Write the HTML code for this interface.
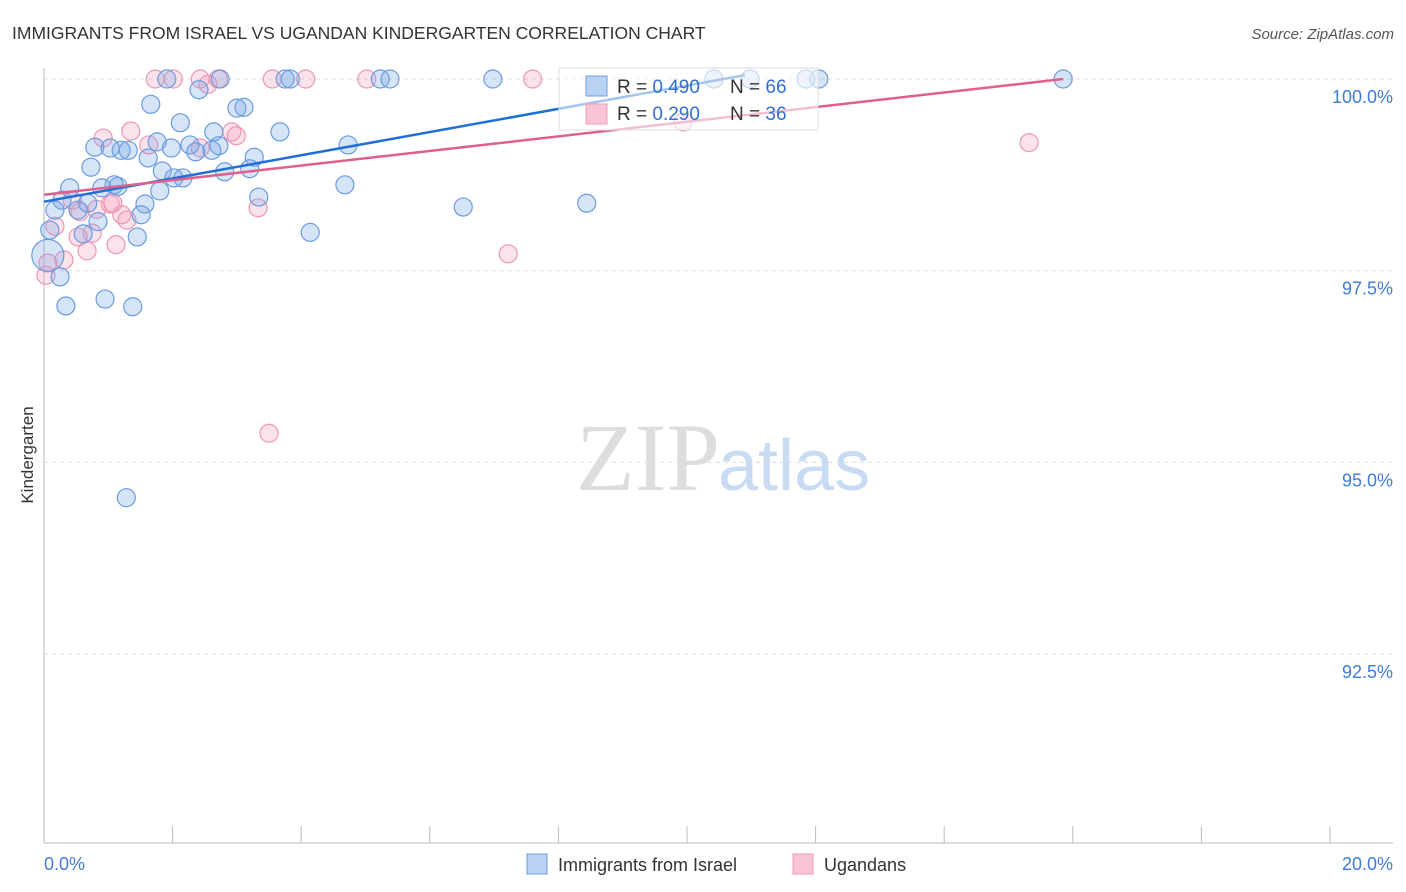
<!DOCTYPE html>
<html><head><meta charset="utf-8"><style>
body{margin:0;background:#fff;font-family:"Liberation Sans",sans-serif;}
#c{position:relative;width:1406px;height:892px;overflow:hidden}
</style></head><body>
<div id="c">
<svg id="s" width="1406" height="892" xmlns="http://www.w3.org/2000/svg">
<text x="12" y="39" font-size="17.5" fill="#333">IMMIGRANTS FROM ISRAEL VS UGANDAN KINDERGARTEN CORRELATION CHART</text>
<text x="1394" y="39" font-size="15" fill="#555" font-style="italic" text-anchor="end">Source: ZipAtlas.com</text>
<text x="720" y="490" font-size="96" fill="#ddd" font-family="Liberation Serif,serif" text-anchor="end">ZIP</text>
<text x="718" y="490" font-size="72" fill="#c9dbf3">atlas</text>
<text x="33" y="455" font-size="17" fill="#333" transform="rotate(-90 33 455)" text-anchor="middle">Kindergarten</text>
<g id="grid"></g><g id="pts"></g><g id="lines"></g>
<g>
<rect x="559" y="68" width="259" height="62" fill="#fff" fill-opacity="0.6" stroke="#ddd"/>
<rect x="586" y="76" width="21" height="20" fill="#b9d1f3" stroke="#6f9fe0"/>
<rect x="586" y="104" width="21" height="20" fill="#f9c4d5" stroke="#ef9bb6"/>
<text x="617" y="93" font-size="19" fill="#333">R = <tspan fill="#2f6fd6">0.490</tspan></text>
<text x="730" y="93" font-size="19" fill="#333">N = <tspan fill="#2f6fd6">66</tspan></text>
<text x="617" y="120" font-size="19" fill="#333">R = <tspan fill="#2f6fd6">0.290</tspan></text>
<text x="730" y="120" font-size="19" fill="#333">N = <tspan fill="#2f6fd6">36</tspan></text>
</g>
<g>
<rect x="527" y="854" width="20" height="20" fill="#b9d1f3" stroke="#6f9fe0"/>
<text x="558" y="871" font-size="18" fill="#333">Immigrants from Israel</text>
<rect x="793" y="854" width="20" height="20" fill="#f9c4d5" stroke="#ef9bb6"/>
<text x="824" y="871" font-size="18" fill="#333">Ugandans</text>
</g>
</svg>
</div>
<script>
const yTicks=[100,97.5,95,92.5];
const yTickLabels=["100.0%","97.5%","95.0%","92.5%"];
const xTicks=[0,2,4,6,8,10,12,14,16,18,20];
const xEndLabels=["0.0%","20.0%"];
const israelX=[1.91,2.74,3.75,3.83,5.23,5.38,6.98,10.42,10.98,11.85,12.05,15.85,2.41,1.66,3.00,3.11,2.12,2.64,3.67,4.73,0.79,1.03,1.20,1.31,1.98,2.27,1.76,2.72,2.61,2.36,1.62,3.27,0.73,1.84,2.81,3.20,2.02,2.16,4.68,1.09,1.15,0.90,0.40,1.80,3.34,0.28,0.68,1.57,0.53,0.17,6.52,8.44,1.51,0.84,0.09,0.61,4.14,1.45,0.06,0.25,0.34,0.95,1.38,1.28];
const israelY=[100,100,100,100,100,100,100,100,100,100,100,100,99.86,99.67,99.62,99.63,99.43,99.31,99.31,99.14,99.11,99.10,99.07,99.07,99.10,99.14,99.18,99.13,99.07,99.05,98.97,98.98,98.85,98.80,98.79,98.83,98.71,98.71,98.62,98.62,98.60,98.58,98.58,98.54,98.46,98.42,98.38,98.37,98.29,98.29,98.33,98.38,98.23,98.14,98.03,97.98,98.00,97.94,97.70,97.42,97.04,97.13,97.03,94.54];
const ugX=[1.73,2.01,2.43,2.71,3.55,4.07,5.02,7.60,2.55,15.32,9.94,0.92,1.35,1.63,2.92,2.99,2.43,3.33,0.44,0.56,1.03,1.07,1.21,1.29,0.82,0.75,0.53,0.17,1.12,0.67,0.31,0.06,0.03,7.22,3.50];
const ugY=[100,100,100,100,100,100,100,100,99.93,99.17,99.44,99.23,99.32,99.14,99.31,99.26,99.10,98.32,98.42,98.27,98.37,98.38,98.23,98.16,98.30,97.99,97.94,98.08,97.84,97.76,97.64,97.60,97.44,97.72,95.38];
const israelTrendX=[0,10.9];
const israelTrendY=[98.40,100.05];
const ugTrendX=[0,15.85];
const ugTrendY=[98.49,100.0];

const NS="http://www.w3.org/2000/svg";
const sx=v=>44+v*64.3;
const sy=v=>79+(100-v)*76.68;
function mk(t,a,p){const e=document.createElementNS(NS,t);for(const k in a)e.setAttribute(k,a[k]);p.appendChild(e);return e;}
const grid=document.getElementById('grid');
yTicks.forEach((v,i)=>{
  const l=mk('line',{x1:44,x2:1393,y1:sy(v),y2:sy(v),stroke:'#ddd','stroke-dasharray':'4,4'},grid);
  
  
  const t=mk('text',{x:1393,y:sy(v)+24,'font-size':18,fill:'#3f7bd9','text-anchor':'end'},grid);
  t.textContent=yTickLabels[i];
  
  
});
const ax=mk('line',{x1:44,x2:44,y1:68,y2:843,stroke:'#bbb'},grid);


const bx=mk('line',{x1:44,x2:1393,y1:843,y2:843,stroke:'#bbb'},grid);


xTicks.forEach(v=>{
  const l=mk('line',{x1:sx(v),x2:sx(v),y1:826,y2:843,stroke:'#bbb'},grid);
  
  
});
[[0,'start'],[20,'end']].forEach((d,i)=>{
  const t=mk('text',{x:i?1393:44,y:870,'font-size':18,fill:'#3f7bd9','text-anchor':d[1]},grid);
  t.textContent=xEndLabels[i];
  
  
});
const pts=document.getElementById('pts');
ugX.forEach((x,i)=>{
  const c=mk('circle',{cx:sx(x),cy:sy(ugY[i]),r:9,fill:'rgba(244,160,188,0.3)',stroke:'#ec97b3','stroke-width':1.2},pts);
  
  
});
israelX.forEach((x,i)=>{
  const c=mk('circle',{cx:sx(x),cy:sy(israelY[i]),r:(i==58?16:9),fill:'rgba(120,165,230,0.3)',stroke:'#6b9be0','stroke-width':1.2},pts);
  
  
});
const lines=document.getElementById('lines');
const l1=mk('line',{x1:sx(israelTrendX[0]),y1:sy(israelTrendY[0]),x2:sx(israelTrendX[1]),y2:sy(israelTrendY[1]),stroke:'#1f6fd6','stroke-width':2.5},lines);


const l2=mk('line',{x1:sx(ugTrendX[0]),y1:sy(ugTrendY[0]),x2:sx(ugTrendX[1]),y2:sy(ugTrendY[1]),stroke:'#e0608a','stroke-width':2.5},lines);


</script>
</body></html>
